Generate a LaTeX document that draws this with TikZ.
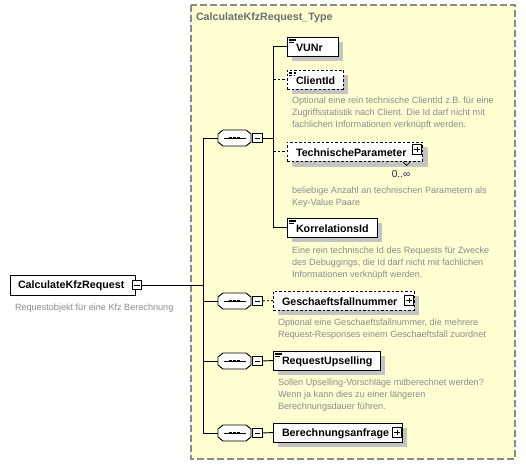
\documentclass[tikz,border=0pt]{standalone}
\usepackage{fontspec}
\setmainfont{Liberation Sans}
\usetikzlibrary{shadows,calc}
\definecolor{bgyellow}{HTML}{FFFFD2}
\definecolor{bordergray}{HTML}{8A8A8A}
\definecolor{descgray}{HTML}{8C8C8C}
\definecolor{titlegray}{HTML}{6E6E6E}
\definecolor{shadowgray}{HTML}{C4C4C4}
\definecolor{navy}{HTML}{202048}
\begin{document}
\begin{tikzpicture}[x=1pt,y=-1pt,
  every node/.style={inner sep=0pt, outer sep=0pt},
  conn/.style={line width=0.9pt},
  optconn/.style={line width=0.9pt, dash pattern=on 2.5pt off 2pt},
  elem/.style={draw, fill=white, line width=0.9pt, minimum height=19pt, anchor=north west,
    drop shadow={shadow xshift=5pt, shadow yshift=-5pt, fill=shadowgray, opacity=1}},
  optelem/.style={elem, dash pattern=on 2.5pt off 2pt},
  rootelem/.style={draw, fill=white, line width=0.9pt, minimum height=20pt, anchor=north west},
  docicon/.style={path picture={
    \draw[line width=0.6pt] ([xshift=2pt,yshift=-2pt]path picture bounding box.north west) -- ++(7pt,0);
    \draw[line width=0.6pt] ([xshift=2pt,yshift=-3.6pt]path picture bounding box.north west) -- ++(7pt,0);
    \draw[line width=0.6pt] ([xshift=2pt,yshift=-5.2pt]path picture bounding box.north west) -- ++(5pt,0);}},
  lbl/.style={font=\fontsize{10.7}{12}\bfseries\selectfont, anchor=west, text=black},
  desc/.style={font=\fontsize{9.1}{12.2}\selectfont, text=descgray, anchor=north west, align=left},
  seqbox/.style={minimum width=33pt, minimum height=16pt},
  octshadow/.style={fill=shadowgray},
  octline/.style={draw, fill=white, line width=0.9pt},
  minusbox/.style={draw, fill=white, minimum size=9.5pt, line width=0.8pt,
    path picture={\draw[line width=0.8pt] ([xshift=2pt]path picture bounding box.west) -- ([xshift=-2pt]path picture bounding box.east);}},
  plusbox/.style={minusbox, path picture={
    \draw[line width=0.8pt] ([xshift=2pt]path picture bounding box.west) -- ([xshift=-2pt]path picture bounding box.east);
    \draw[line width=0.8pt] ([yshift=2pt]path picture bounding box.south) -- ([yshift=-2pt]path picture bounding box.north);}},
]
\useasboundingbox (0,0) rectangle (526,465);
% background type area
\fill[bgyellow] (191,5) rectangle (515,459);
\draw[bordergray, line width=1.1pt, dash pattern=on 7pt off 3pt] (191,5) rectangle (515,459);
\node[anchor=west, font=\fontsize{10.7}{12}\bfseries\selectfont, text=titlegray] (title) at (196,18) {CalculateKfzRequest\_Type};

% root element
\node[rootelem, minimum width=125pt] (root) at (10,275) {};
\node[lbl] (rootlbl) at ($(root.west)+(8,0.5)$) {CalculateKfzRequest};
\node[minusbox] (rootm) at (137,285) {};
\node[desc] (rootdesc) at (15,303.5) {Requestobjekt für eine Kfz Berechnung};
\coordinate (j) at (203,285);
\coordinate (vtop) at (203,138);
\coordinate (vbot) at (203,433);

% sequences
\node[seqbox] (s1) at (234.5,138) {};
\node[seqbox] (s2) at (234.5,301) {};
\node[seqbox] (s3) at (234.5,361) {};
\node[seqbox] (s4) at (234.5,433) {};
\foreach \s in {s1,s2,s3,s4}{
  \fill[octshadow, shift={(5,5)}] ($(\s.north west)+(5,0)$) -- ($(\s.north east)+(-5,0)$) -- ($(\s.north east)+(0,4)$)
     -- ($(\s.south east)+(0,-4)$) -- ($(\s.south east)+(-5,0)$) -- ($(\s.south west)+(5,0)$)
     -- ($(\s.south west)+(0,-4)$) -- ($(\s.north west)+(0,4)$) -- cycle;
  \path[octline] ($(\s.north west)+(5,0)$) -- ($(\s.north east)+(-5,0)$) -- ($(\s.north east)+(0,4)$)
     -- ($(\s.south east)+(0,-4)$) -- ($(\s.south east)+(-5,0)$) -- ($(\s.south west)+(5,0)$)
     -- ($(\s.south west)+(0,-4)$) -- ($(\s.north west)+(0,4)$) -- cycle;
  \draw[line width=0.9pt] ($(\s)+(-11,0)$) -- ($(\s)+(11,0)$);
  \fill ($(\s)+(-5.5,-1.3)$) rectangle ++(2.6,2.6);
  \fill ($(\s)+(-1.3,-1.3)$) rectangle ++(2.6,2.6);
  \fill ($(\s)+(2.9,-1.3)$) rectangle ++(2.6,2.6);
}
\node[minusbox] (s1m) at (257.5,138) {};
\node[minusbox] (s2m) at (257.5,301) {};
\node[minusbox] (s3m) at (257.5,361) {};
\node[minusbox] (s4m) at (257.5,433) {};

% children of sequence 1
\node[elem, docicon, minimum width=51pt] (vunr) at (287,37) {};
\node[lbl] at ($(vunr.west)+(9,1)$) {VUNr};
\node[optelem, docicon, minimum width=56pt] (cid) at (287,70) {};
\node[lbl] at ($(cid.west)+(9,1)$) {ClientId};
\node[desc] (ciddesc) at (292,97) {Optional eine rein technische ClientId z.B. für eine\\Zugriffsstatistik nach Client. Die Id darf nicht mit\\fachlichen Informationen verknüpft werden.};
\node[optelem, minimum width=135pt,
  drop shadow={shadow xshift=6pt, shadow yshift=-6pt, fill=shadowgray, opacity=1}] (tp) at (287,142) {};
\node[lbl] at ($(tp.west)+(9,1)$) {TechnischeParameter};
\node[plusbox] (tpp) at ($(tp.east)+(-5,-2)$) {};
\draw[line width=0.7pt] (403,162) -- (406.5,165.5) -- (410,162);
\node[font=\fontsize{10}{11}\selectfont, text=navy] (tpocc) at (401,174) {0..∞};
\node[desc] (tpdesc) at (292,187) {beliebige Anzahl an technischen Parametern als\\Key-Value Paare};
\node[elem, docicon, minimum width=90pt] (korr) at (287,218) {};
\node[lbl] at ($(korr.west)+(9,1)$) {KorrelationsId};
\node[desc] (korrdesc) at (292,246.5) {Eine rein technische Id des Requests für Zwecke\\des Debuggings, die Id darf nicht mit fachlichen\\Informationen verknüpft werden.};

% other children
\node[optelem, minimum width=141pt] (gfn) at (273,291) {};
\node[lbl] at ($(gfn.west)+(9,1)$) {Geschaeftsfallnummer};
\node[plusbox] (gfnp) at ($(gfn.east)+(-5,0)$) {};
\node[desc] (gfndesc) at (278,319) {Optional eine Geschaeftsfallnummer, die mehrere\\Request-Responses einem Geschaeftsfall zuordnet};
\node[elem, docicon, minimum width=107pt] (rup) at (273,351) {};
\node[lbl] at ($(rup.west)+(9,1)$) {RequestUpselling};
\node[desc] (rupdesc) at (278,379) {Sollen Upselling-Vorschläge mitberechnet werden?\\Wenn ja kann dies zu einer längeren\\Berechnungsdauer führen.};
\node[elem, minimum width=129pt] (ber) at (273,423) {};
\node[lbl] at ($(ber.west)+(9,1)$) {Berechnungsanfrage};
\node[plusbox] (berp) at ($(ber.east)+(-5,0)$) {};

% connectors
\draw[conn] (rootm.east) -- (j);
\draw[conn] (vtop) -- (vbot);
\draw[conn] (s1.west -| j) -- (s1.west);
\draw[conn] (s2.west -| j) -- (s2.west);
\draw[conn] (s3.west -| j) -- (s3.west);
\draw[conn] (s4.west -| j) -- (s4.west);
\coordinate (b1) at (273,138);
\draw[conn] (s1m.east) -- (b1);
\draw[conn] (vunr.west -| b1) -- (korr.west -| b1);
\draw[conn] (vunr.west -| b1) -- (vunr.west);
\draw[optconn] (cid.west -| b1) -- (cid.west);
\draw[optconn] (tp.west -| b1) -- (tp.west);
\draw[conn] (korr.west -| b1) -- (korr.west);
\draw[optconn] (s2m.east) -- (gfn.west);
\draw[conn] (s3m.east) -- (rup.west);
\draw[conn] (s4m.east) -- (ber.west);
\end{tikzpicture}
\end{document}
